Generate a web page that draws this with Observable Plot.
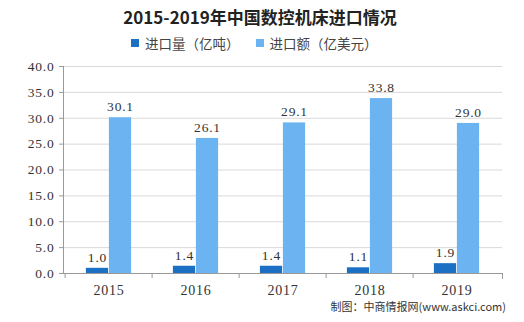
<!DOCTYPE html>
<html>
<head>
<meta charset="utf-8">
<script src="https://cdn.jsdelivr.net/npm/d3@7"></script>
<script src="https://cdn.jsdelivr.net/npm/@observablehq/plot@0.6"></script>
<style>
  body { margin:0; width:524px; height:322px; position:relative; background:#fff; overflow:hidden; }
  #title { position:absolute; top:5px; left:0; width:520px; text-align:center; font-family:"Noto Sans CJK SC"; font-weight:bold; font-size:17px; line-height:24px; color:#222; }
  #legend { position:absolute; top:34px; left:131px; font-family:"Noto Sans CJK SC"; font-size:13.5px; line-height:18px; color:#444; display:flex; align-items:center; white-space:nowrap; }
  #legend .sw { display:inline-block; width:8px; height:8px; margin-right:6px; }
  #legend .item { display:flex; align-items:center; margin-right:16px; }
  #chart { position:absolute; top:56px; left:0; }
  #chart svg text { letter-spacing: 0.8px; }
  #caption { position:absolute; top:298px; right:18px; font-family:"Noto Sans CJK SC"; font-size:11px; color:#333; white-space:nowrap; }
</style>
</head>
<body>
<div id="title"></div>
<div id="legend"></div>
<div id="chart"></div>
<div id="caption"></div>
<script>
const titleText = "2015-2019年中国数控机床进口情况";
const captionText = "制图：中商情报网(www.askci.com)";
const years = ["2015", "2016", "2017", "2018", "2019"];
const seriesNames = ["进口量（亿吨）", "进口额（亿美元）"];
const importVolume = [1.0, 1.4, 1.4, 1.1, 1.9];
const importValue = [30.1, 26.1, 29.1, 33.8, 29.0];
const yTicks = [0, 5, 10, 15, 20, 25, 30, 35, 40];
const colors = ["#1b70c4", "#6bb4f1"];

document.getElementById("title").textContent = titleText;
document.getElementById("caption").textContent = captionText;
const legend = document.getElementById("legend");
seriesNames.forEach((name, i) => {
  const item = document.createElement("span");
  item.className = "item";
  const sw = document.createElement("span");
  sw.className = "sw";
  sw.style.background = colors[i];
  item.appendChild(sw);
  item.appendChild(document.createTextNode(name));
  legend.appendChild(item);
});

const width = 524, height = 247, marginLeft = 63, marginRight = 22, marginTop = 10, marginBottom = 30;
const plotH = height - marginTop - marginBottom;
const step = (width - marginLeft - marginRight) / years.length;
const barW = 23;
const inset = (step - barW) / 2;

const volRows = years.map((y, i) => ({year: y, v: importVolume[i]}));
const valRows = years.map((y, i) => ({year: y, v: importValue[i]}));
const numFont = "'Liberation Serif', serif";

const chart = Plot.plot({
  width, height, marginLeft, marginRight, marginTop, marginBottom,
  style: {fontFamily: numFont, fontSize: "13px", color: "#333", background: "transparent"},
  x: {domain: years, padding: 0, label: null},
  y: {domain: [0, 40], label: null},
  marks: [
    Plot.gridY(yTicks, {stroke: "#d9d9d9", strokeOpacity: 1}),
    Plot.axisY(yTicks, {tickSize: 4, tickPadding: 5, tickFormat: d => d.toFixed(1), stroke: "#999", fill: "#333", fontSize: 13.5, label: null}),
    Plot.frame({anchor: "left", stroke: "#999"}),
    Plot.ruleY([0], {stroke: "#999"}),
    Plot.axisX({tickSize: 0, tickPadding: 12, label: null, fontSize: 14, fill: "#333"}),
    Plot.axisX({tickSize: 5, tickFormat: () => "", dx: -step / 2, stroke: "#999", label: null}),
    Plot.frame({anchor: "right", insetTop: plotH, insetBottom: -5, stroke: "#999"}),
    Plot.barY(volRows, {x: "year", y: "v", fill: colors[0], insetLeft: inset, insetRight: inset, dx: -barW / 2}),
    Plot.barY(valRows, {x: "year", y: "v", fill: colors[1], insetLeft: inset, insetRight: inset, dx: barW / 2}),
    Plot.text(volRows, {x: "year", y: "v", text: d => d.v.toFixed(1), dx: -barW / 2, dy: -11, fontSize: 13.5, fill: "#333"}),
    Plot.text(valRows, {x: "year", y: "v", text: d => d.v.toFixed(1), dx: barW / 2, dy: -11, fontSize: 13.5, fill: "#333"})
  ]
});
document.getElementById("chart").appendChild(chart);
</script>
</body>
</html>
